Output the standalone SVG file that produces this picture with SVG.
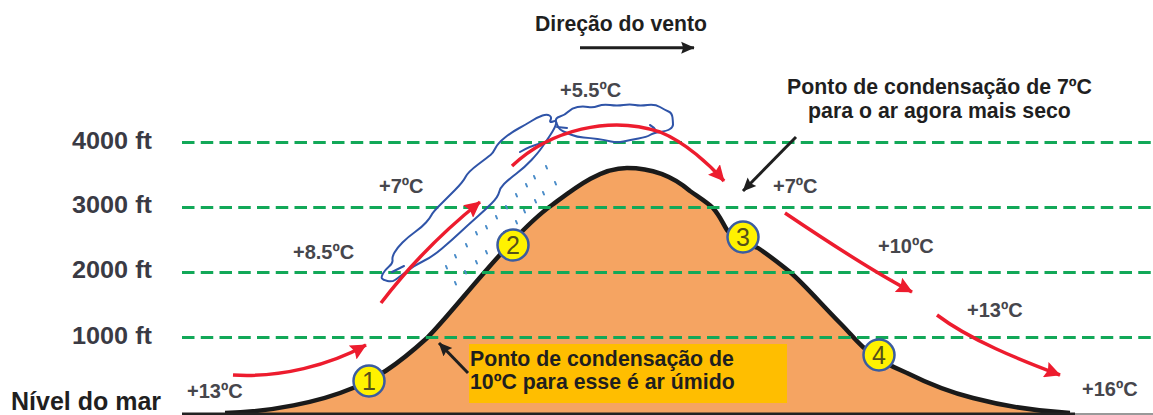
<svg xmlns="http://www.w3.org/2000/svg" width="1153" height="415" viewBox="0 0 1153 415">
  <style>
    text { font-family: "Liberation Sans", Arial, sans-serif; font-weight: bold; }
    .alt { font-size: 24px; fill: #3a3a44; }
    .temp { font-size: 20px; fill: #46464c; }
    .note { font-size: 21.300px; fill: #1f1f1f; }
    .grid { stroke: #12a858; stroke-width: 3; stroke-dasharray: 12.500 6.250; fill: none; }
    .red { stroke: #ed1c2e; stroke-width: 3.500; fill: none; }
    .blk { stroke: #1f1f1f; stroke-width: 3; fill: none; }
    .badge circle { fill: #fff200; stroke: #3b5ca0; stroke-width: 2.500; }
    .badge text { font-size: 25px; font-weight: normal; fill: #55501a; text-anchor: middle; }
  </style>
  <defs>
    <marker id="redHead" viewBox="0 0 10 10" refX="9.500" refY="5" markerWidth="4.600" markerHeight="4.600" orient="auto">
      <path d="M0 0 L10 5 L0 10 L1.500 5 Z" fill="#ed1c2e"/>
    </marker>
    <marker id="blkHead" viewBox="0 0 10 10" refX="9.500" refY="5" markerWidth="4.500" markerHeight="4.500" orient="auto">
      <path d="M0 0.500 L10 5 L0 9.500 L1.500 5 Z" fill="#1f1f1f"/>
    </marker>
  </defs>

  <!-- terrain profile -->
  <g id="mountain">
    <path id="slope-fill" d="M225 413 C270 412 320 402 353 388 C375 379 395 367 427 338 C445 320 470 288 498 257 C515 238 535 217 552 205 C575 188 600 168 627 168 C655 168 675 178 690 191 C700 198 708 203 713 208 C720 216 722 222 727 230 C735 240 745 243 758 248 C770 256 780 264 790 272 C805 285 822 305 840 323 C850 333 855 340 863 347 C875 358 890 366 907 373 C925 382 945 391 973 398 C1000 405 1030 411 1070 413 Z" fill="#f5a462"/>
    <path d="M225 413 C270 412 320 402 353 388 C375 379 395 367 427 338 C445 320 470 288 498 257 C515 238 535 217 552 205 C575 188 600 168 627 168 C655 168 675 178 690 191 C700 198 708 203 713 208 C720 216 722 222 727 230 C735 240 745 243 758 248 C770 256 780 264 790 272 C805 285 822 305 840 323 C850 333 855 340 863 347 C875 358 890 366 907 373 C925 382 945 391 973 398 C1000 405 1030 411 1070 413" fill="none" stroke="#1a1a1a" stroke-width="4.500"/>
    <path d="M182 414 H1075" stroke="#222" stroke-width="3" fill="none"/>
    <path d="M1075 414 H1153" stroke="#999" stroke-width="2" fill="none"/>
  </g>

  <!-- altitude reference lines -->
  <g id="altitude-lines">
    <path class="grid" d="M182 142.500H1153"/>
    <path class="grid" d="M182 207.500H1153"/>
    <path class="grid" d="M182 272.500H1153"/>
    <path class="grid" d="M182 337.500H1153"/>
  </g>

  <!-- condensation droplets below the cloud -->
  <g id="rain">
    <path fill="none" stroke="#4a8cc8" stroke-width="2" stroke-linecap="round" d="M546 166l1 2.500M534 176l1 2.500M526 184l1 2.500M516 194l1 2.500M506 206l1 2.500M496 216l1 2.500M486 226l1 2.500M476 232l1 2.500M466 244l1 2.500M455 255l1 2.500M446 266l1 2.500M555 182l1 2.500M543 192l1 2.500M535 200l1 2.500M524 210l1 2.500M516 221l1 2.500M504 232l1 2.500M486 251l1 2.500M476 261l1 2.500M465 271l1 2.500M455 282l1 2.500"/>
  </g>

  <!-- cloud along the windward slope and over the summit -->
  <g id="cloud" fill="none" stroke="#2f54a8" stroke-width="2" stroke-linecap="round">
    <path d="M383 273.500 Q385 270 389 266.500 Q393 263 392.500 260 Q392 257 394.500 252.500 Q397 248 402.500 242.500 Q408 237 415 232 Q422 227 426 222.500 Q430 218 431.500 215 Q433 212 440 205 Q447 198 455 190 Q463 182 465.500 177 Q468 172 478 164.500 Q488 157 490.500 155 Q493 153 495.500 148 Q498 143 505 137.500 Q512 132 518.500 128.500 Q525 125 531.500 121 Q538 117 542.500 115.500 Q547 114 549.500 115.500 Q552 117 550.500 120 Q549 123 553 121.500 Q557 120 556 124 Q555 128 550 135.500 Q545 143 541.500 148 Q538 153 531.500 160 Q525 167 516.500 173.500 Q508 180 504 184 Q500 188 499 192.500 Q498 197 491.500 203.500 Q485 210 476.500 217.500 Q468 225 460 232.500 Q452 240 442 248.500 Q432 257 423.500 261 Q415 265 406.500 271.500 Q398 278 395 280 Q392 282 387.500 281 Q383 280 382 278.500 Q381 277 383 273.500 Z"/>
    <path d="M568.500 111.500 Q572 108 577.500 107 Q583 106 588 107 Q593 108 598 106 Q603 104 610 105 Q617 106 623.500 105 Q630 104 635 105 Q640 106 647.500 105 Q655 104 660 107 Q665 110 668.500 111.500 Q672 113 672.500 117.500 Q673 122 673 124.500 Q673 127 670 129 Q667 131 660 132 Q653 133 650 135 Q647 137 638.500 138.500 Q630 140 623.500 141.500 Q617 143 611 141.500 Q605 140 597.500 139 Q590 138 583.500 137.500 Q577 137 572 135 Q567 133 563.500 131.500 Q560 130 558.500 127.500 Q557 125 556 121.500 Q555 118 560 116.500 Q565 115 568.500 111.500 Z"/>
    <path d="M392 272 L404 266M520 152 Q530 146 542 143M557 127 L567 128M650 125 Q654 127 657 132"/>
  </g>

  <!-- air-flow and pointer arrows -->
  <g id="connectors">
    <path class="red" marker-end="url(#redHead)" d="M233 375 C280 378 330 365 366 345"/>
    <path class="red" marker-end="url(#redHead)" d="M381 303 C410 265 445 230 480 202"/>
    <path class="red" marker-end="url(#redHead)" d="M512 166 C550 130 610 115 660 132 C685 142 710 165 724 181"/>
    <path class="red" marker-end="url(#redHead)" d="M785 213 C825 240 870 270 912 292"/>
    <path class="red" marker-end="url(#redHead)" d="M937 315 C970 340 1020 360 1060 375"/>
    <path class="blk" marker-end="url(#blkHead)" d="M796 137 L743 191"/>
    <path class="blk" marker-end="url(#blkHead)" d="M468 373 L439 343"/>
    <path class="blk" stroke-width="3.500" marker-end="url(#blkHead)" d="M580 47.700 H694"/>
  </g>

  <!-- numbered stations on the slope -->
  <g id="station-1" class="badge"><circle cx="369" cy="381" r="15.500"/><text x="369" y="390">1</text></g>
  <g id="station-2" class="badge"><circle cx="513" cy="245" r="15.500"/><text x="513" y="254">2</text></g>
  <g id="station-3" class="badge"><circle cx="743" cy="237" r="15.500"/><text x="743" y="246">3</text></g>
  <g id="station-4" class="badge"><circle cx="879" cy="355" r="15.500"/><text x="879" y="364">4</text></g>

  <!-- callout on the slope -->
  <g id="callout">
    <rect x="469" y="344" width="318" height="59" fill="#ffbe00"/>
    <text class="note" x="470" y="366">Ponto de condensação de</text>
    <text class="note" x="470" y="389">10ºC para esse é ar úmido</text>
  </g>

  <!-- altitude labels -->
  <g id="altitude-labels">
    <text class="alt" x="72" y="149" textLength="80" lengthAdjust="spacingAndGlyphs">4000 ft</text>
    <text class="alt" x="72" y="213" textLength="80" lengthAdjust="spacingAndGlyphs">3000 ft</text>
    <text class="alt" x="72" y="278" textLength="80" lengthAdjust="spacingAndGlyphs">2000 ft</text>
    <text class="alt" x="72" y="344" textLength="80" lengthAdjust="spacingAndGlyphs">1000 ft</text>
    <text x="11" y="409.500" font-size="25" fill="#1f1f1f">Nível do mar</text>
  </g>

  <!-- temperature readings -->
  <g id="temperatures">
    <text class="temp" x="187" y="398">+13ºC</text>
    <text class="temp" x="293" y="259">+8.5ºC</text>
    <text class="temp" x="379" y="193">+7ºC</text>
    <text class="temp" x="560" y="97">+5.5ºC</text>
    <text class="temp" x="773" y="193">+7ºC</text>
    <text class="temp" x="878" y="253">+10ºC</text>
    <text class="temp" x="967" y="317">+13ºC</text>
    <text class="temp" x="1082" y="396">+16ºC</text>
  </g>

  <!-- headings -->
  <g id="wind-title"><text x="535" y="31" font-size="21.200" fill="#1f1f1f">Direção do vento</text></g>
  <g id="dew-note">
    <text class="note" x="939.500" y="94" text-anchor="middle">Ponto de condensação de 7ºC</text>
    <text class="note" x="939.500" y="118" text-anchor="middle">para o ar agora mais seco</text>
  </g>
</svg>
